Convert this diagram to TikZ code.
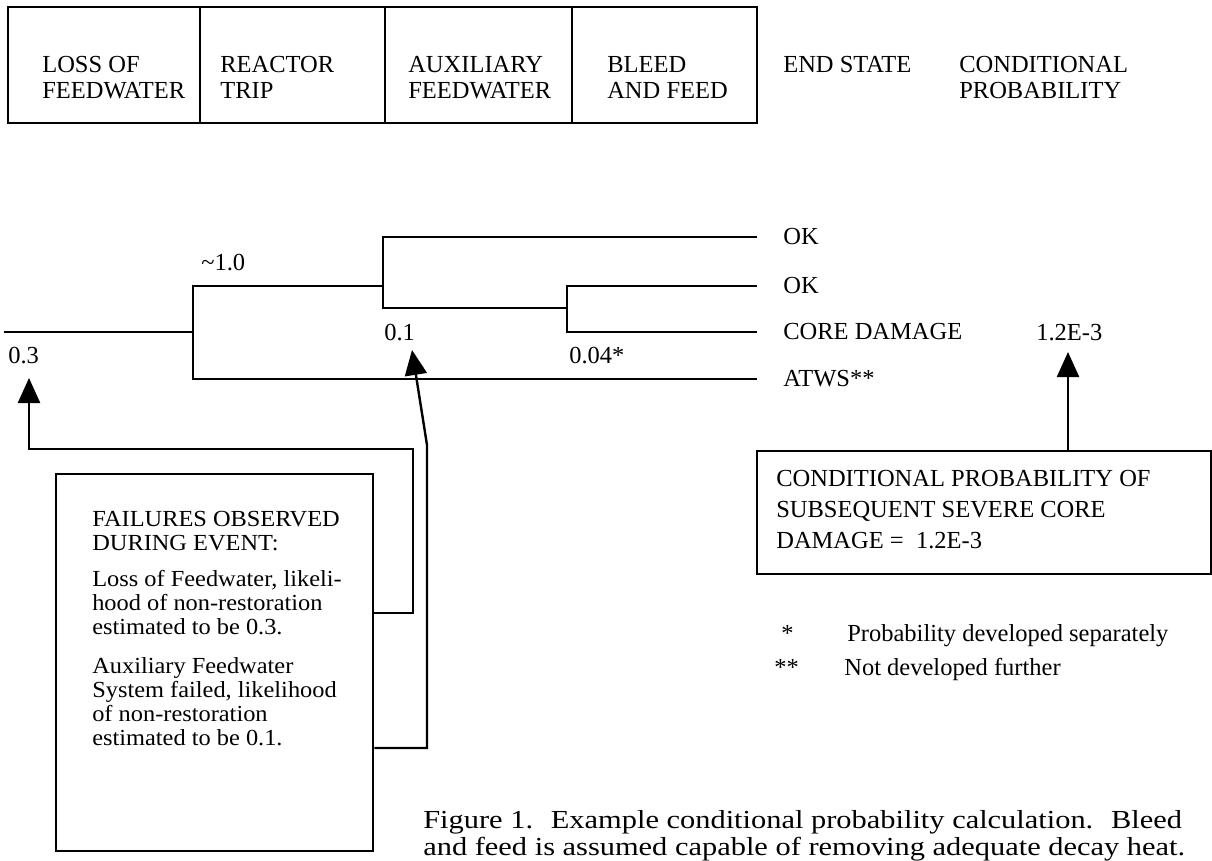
\documentclass[tikz,border=0pt]{standalone}
\usepackage{fontspec}
\setmainfont{Liberation Serif}
\newfontfamily\boxfont[FakeStretch=1.06]{Liberation Serif}
\newfontfamily\capfont[FakeStretch=1.17]{Liberation Serif}
\usetikzlibrary{arrows.meta}

\begin{document}
\begin{tikzpicture}[x=1pt,y=-1pt,line width=2.6pt,
  font=\fontsize{24.5}{26}\selectfont,
  hdr/.style={anchor=north west,align=left,inner sep=0pt},
  lbl/.style={anchor=base west,inner sep=0pt},
  endlbl/.style={anchor=west,inner xsep=25pt,inner ysep=0pt},
  frame/.style={draw,line width=2.4pt,anchor=north west,inner sep=0pt},
  bigtip/.style={-{Triangle[length=25pt,width=22pt]}}]
\useasboundingbox (0,0) rectangle (1212,860);
% ---------- header boxes ----------
\draw[line width=2.4pt] (8,7) rectangle (757,123);
\foreach \xd in {200,385,572}
  \draw[line width=2.4pt] (\xd,7) -- (\xd,123);
\node[hdr] (hloss) at (41,55) {LOSS OF\\FEEDWATER};
\node[hdr] (htrip) at (219,55) {REACTOR\\TRIP};
\node[hdr] (haux) at (407,55) {AUXILIARY\\FEEDWATER};
\node[hdr] (hbleed) at (606,55) {BLEED\\AND FEED};
\node[hdr] (hend) at (782,55) {END STATE};
\node[hdr] (hprob) at (958,55) {CONDITIONAL\\PROBABILITY};
% ---------- event tree ----------
\node[endlbl] (ok1) at (757,237) {OK};
\node[endlbl] (ok2) at (757,286) {OK};
\node[endlbl] (core) at (757,332) {CORE DAMAGE};
\node[endlbl] (atws) at (757,379) {ATWS**};
\coordinate (start) at (4,332);
\draw (start) -- (193,332);
\draw (383,286) -- (193,286) -- (193,379) -- (atws.west);
\draw (ok1.west) -- (383,237) -- (383,308) -- (567,308);
\draw (ok2.west) -- (567,286) -- (567,332) -- (core.west);
\node[lbl] (p03) at (7,363) {0.3};
\node[lbl] (p10) at (200,270) {\textasciitilde1.0};
\node[lbl] (p01) at (383,340) {0.1};
\node[lbl] (p004) at (568,363) {0.04*};
\node[lbl] (pcd) at (1035,340) {1.2E-3};
% ---------- observed failures ----------
\node[frame,minimum width=317pt,minimum height=377pt] (failbox) at (55,473) {};
\node[hdr,font=\boxfont\fontsize{23}{24}\selectfont] (failtxt) at (91,510)
  {FAILURES OBSERVED\\DURING EVENT:\\[12pt]Loss of Feedwater, likeli-\\hood of non-restoration\\estimated to be 0.3.\\[15pt]Auxiliary Feedwater\\System failed, likelihood\\of non-restoration\\estimated to be 0.1.};
\coordinate (c03) at (413,613);
\coordinate (c01) at (427,748);
\coordinate (t03) at (29,378);
\coordinate (t01) at (412,350);
\draw[bigtip,line width=2.4pt] (failbox.east |- c03) -- (c03) -- (413,449) -- (29,449) -- (t03);
\draw[bigtip,line width=2.4pt] (failbox.east |- c01) -- (c01) -- (427,445) -- (t01);
% ---------- conditional probability ----------
\node[frame,minimum width=454pt,minimum height=123pt] (probbox) at (756,450) {};
\node[hdr,font=\fontsize{24.5}{31}\selectfont] (probtxt) at (775,469)
  {CONDITIONAL PROBABILITY OF\\SUBSEQUENT SEVERE CORE\\DAMAGE =~ 1.2E-3};
\coordinate (tcd) at (1068,352);
\draw[bigtip,line width=2.4pt] (probbox.north -| tcd) -- (tcd);
% ---------- legend and caption ----------
\node[lbl] (s1) at (780,641) {*};
\node[lbl] (s1t) at (846,641) {Probability developed separately};
\node[lbl] (s2) at (773,675) {**};
\node[lbl] (s2t) at (843,675) {Not developed further};
\node[hdr,font=\capfont\fontsize{26}{27.5}\selectfont] (caption) at (422,809)
  {Figure 1.~ Example conditional probability calculation.~ Bleed\\and feed is assumed capable of removing adequate decay heat.};
\end{tikzpicture}
\end{document}
